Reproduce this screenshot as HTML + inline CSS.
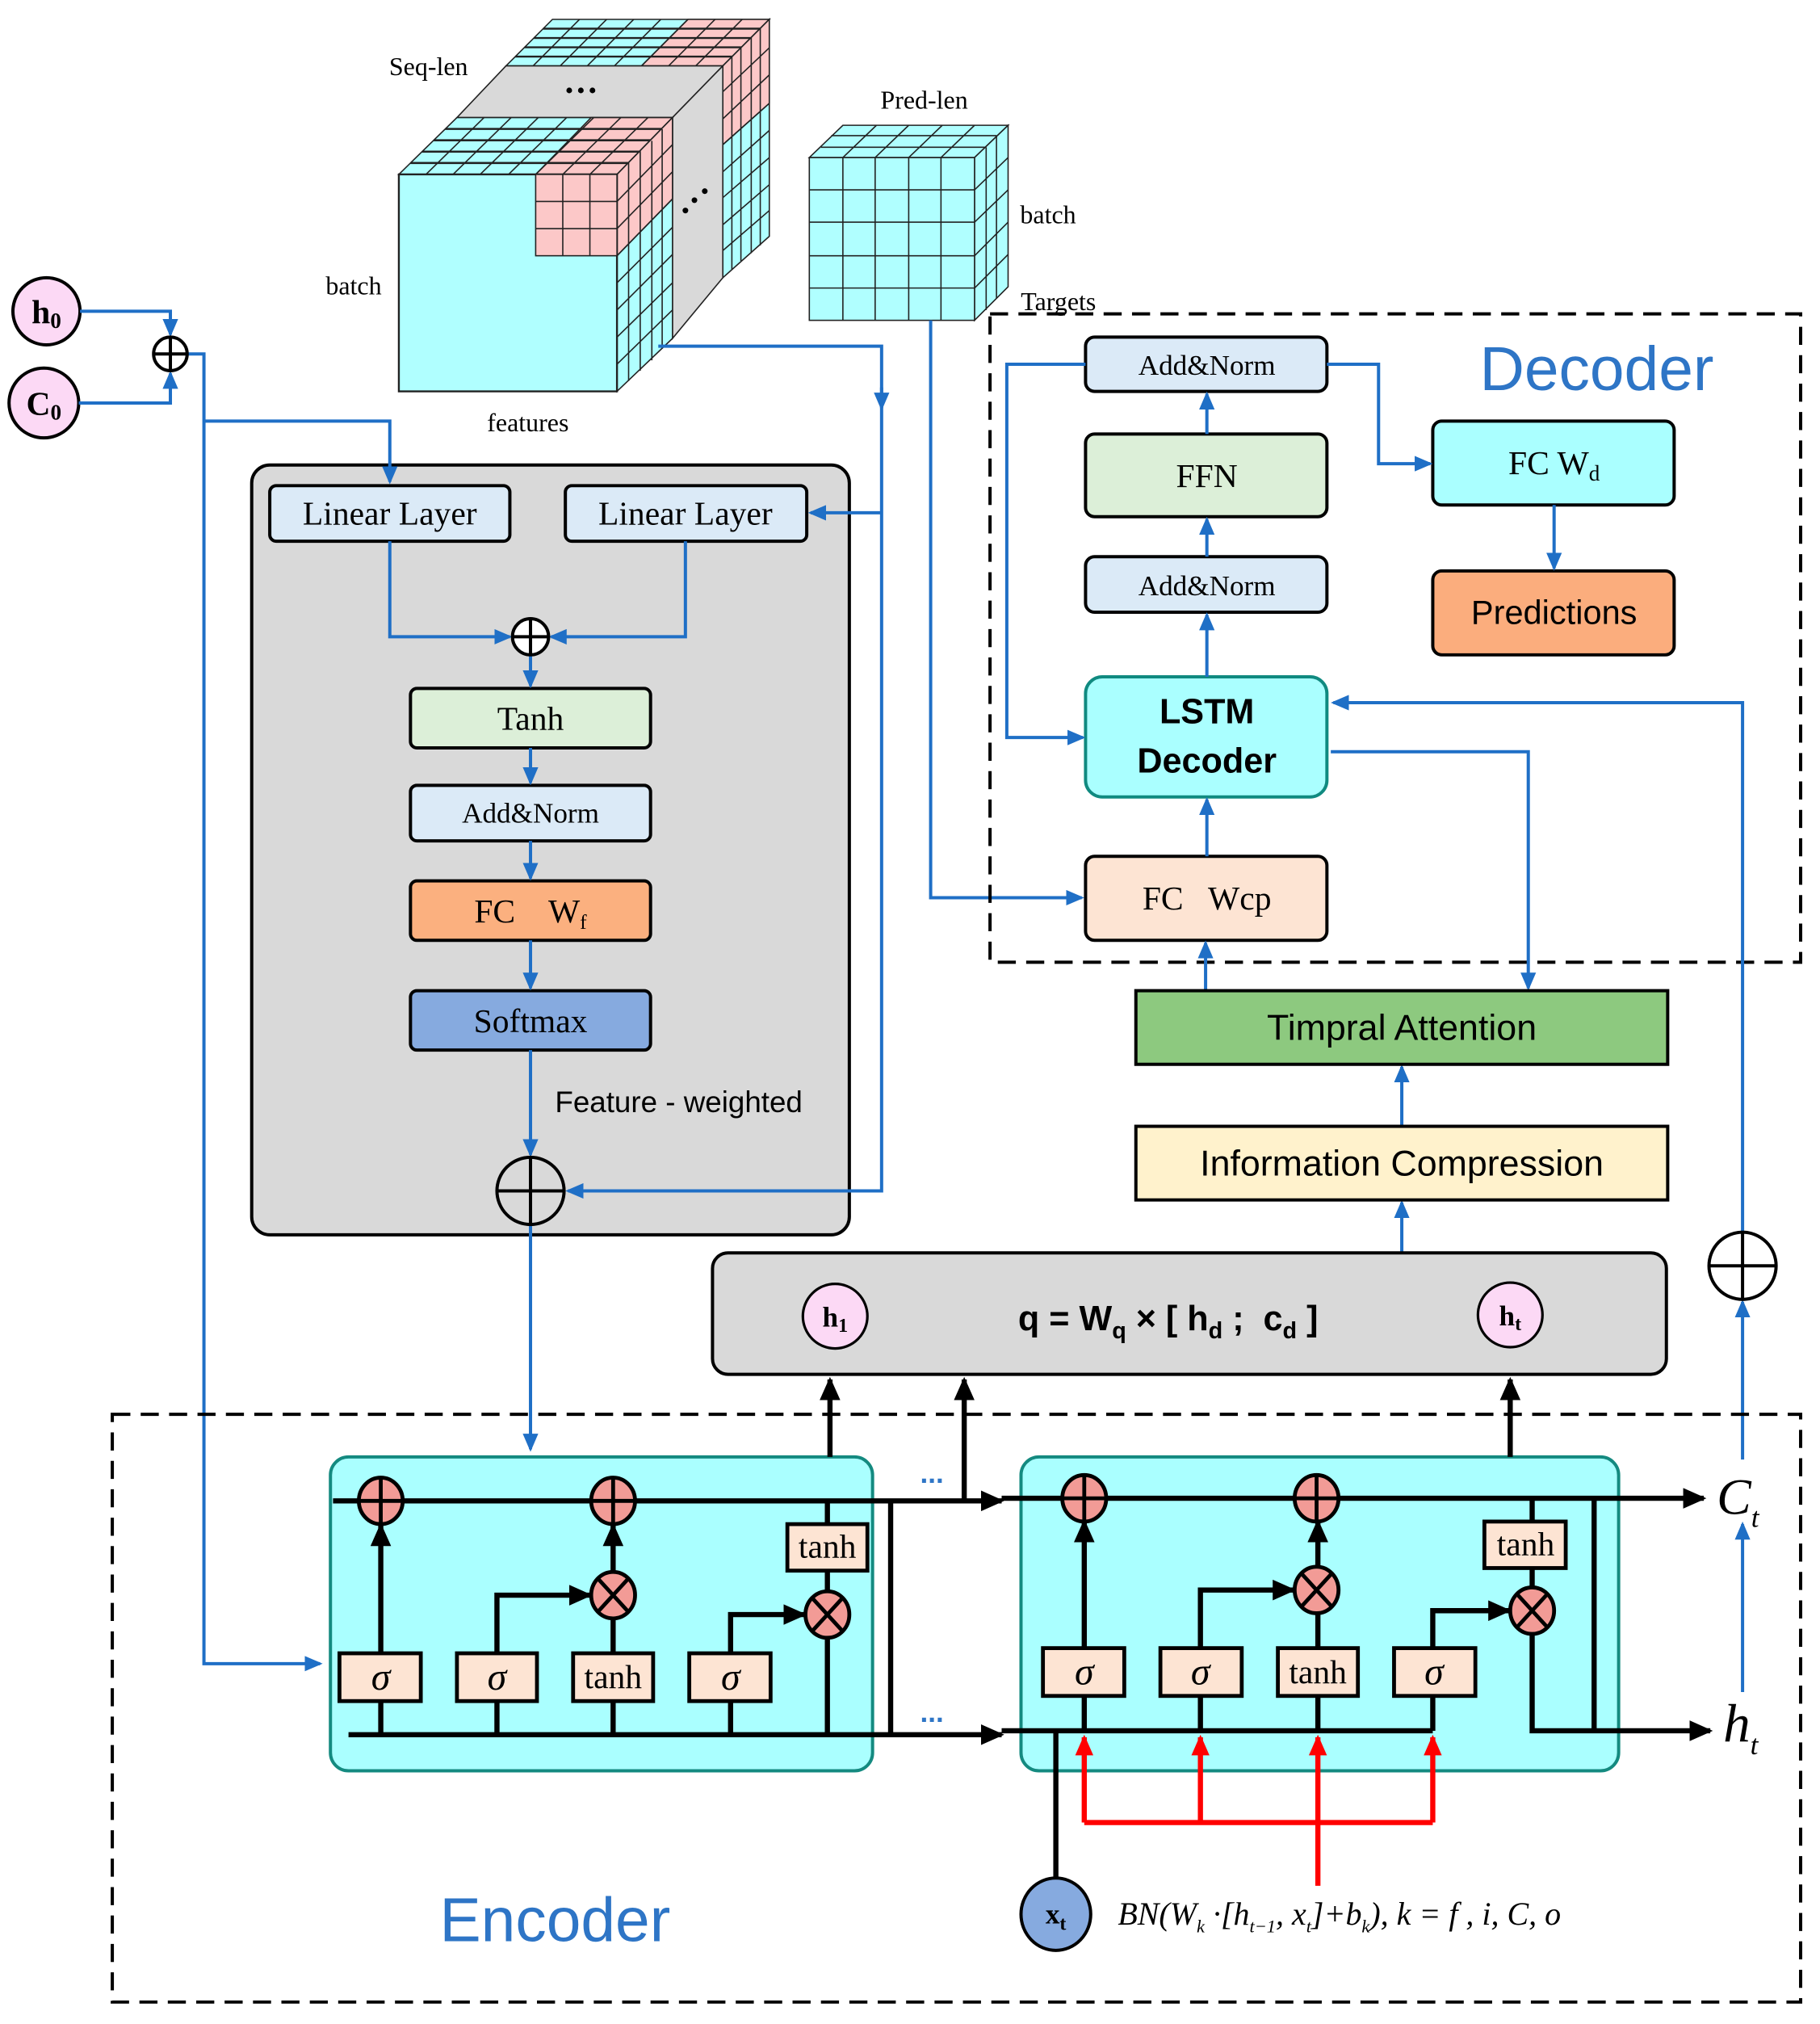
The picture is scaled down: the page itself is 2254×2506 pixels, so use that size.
<!DOCTYPE html>
<html><head><meta charset="utf-8"><style>
html,body{margin:0;padding:0;background:#fff}
svg{display:block}
.s{font-family:"Liberation Serif",serif}
.a{font-family:"Liberation Sans",sans-serif}
</style></head><body>
<svg width="2254" height="2506" viewBox="0 0 1410 1567" preserveAspectRatio="none" xmlns="http://www.w3.org/2000/svg">
<defs>
<marker id="ab" markerWidth="14" markerHeight="12" refX="12" refY="6" orient="auto" markerUnits="userSpaceOnUse"><path d="M0,0 L14,6 L0,12 z" fill="#1f6fc6"/></marker>
<marker id="ak" markerWidth="18" markerHeight="16" refX="16" refY="8" orient="auto" markerUnits="userSpaceOnUse"><path d="M0,0 L18,8 L0,16 z" fill="#000"/></marker>
<marker id="ar" markerWidth="16" markerHeight="14" refX="14" refY="7" orient="auto" markerUnits="userSpaceOnUse"><path d="M0,0 L16,7 L0,14 z" fill="#f00"/></marker>
</defs>

<!-- ===== Big 3D data cube ===== -->
<g stroke="#222" stroke-width="1">
<polygon points="392,51 560,51 596,15 428,15" fill="#b0ffff"/>
<polygon points="497,51 560,51 596,15 533,15" fill="#fcc8c8"/>
<g stroke-width="1.5">
<line x1="392" y1="51" x2="560" y2="51" transform="translate(7.2,-7.2)"/>
<line x1="392" y1="51" x2="560" y2="51" transform="translate(14.4,-14.4)"/>
<line x1="392" y1="51" x2="560" y2="51" transform="translate(21.6,-21.6)"/>
<line x1="392" y1="51" x2="560" y2="51" transform="translate(28.8,-28.8)"/>
</g>
<line x1="413" y1="51" x2="449" y2="15"/><line x1="434" y1="51" x2="470" y2="15"/><line x1="455" y1="51" x2="491" y2="15"/><line x1="476" y1="51" x2="512" y2="15"/><line x1="497" y1="51" x2="533" y2="15"/><line x1="518" y1="51" x2="554" y2="15"/><line x1="539" y1="51" x2="575" y2="15"/>
<polygon points="560,51 596,15 596,183 560,215" fill="#b0ffff"/>
<polygon points="560,51 596,15 596,80 560,112" fill="#fcc8c8"/>
<line x1="560" y1="71" x2="596" y2="37"/><line x1="560" y1="92" x2="596" y2="58"/><line x1="560" y1="112" x2="596" y2="80"/><line x1="560" y1="133" x2="596" y2="101"/><line x1="560" y1="153" x2="596" y2="122"/><line x1="560" y1="174" x2="596" y2="143"/><line x1="560" y1="194" x2="596" y2="163"/>
<line x1="567" y1="44" x2="567" y2="209"/><line x1="574" y1="37" x2="574" y2="202"/><line x1="582" y1="29" x2="582" y2="196"/><line x1="589" y1="22" x2="589" y2="190"/>
<polygon points="354,91 521,91 560,51 392,51" fill="#d9d9d9"/>
<polygon points="521,91 560,51 560,215 521,262" fill="#d9d9d9"/>
<polygon points="309,135 478,135 521,91 354,91" fill="#b0ffff"/>
<polygon points="415,135 478,135 521,91 458,91" fill="#fcc8c8"/>
<g stroke-width="1.6">
<line x1="309" y1="135" x2="478" y2="135" transform="translate(9,-8.8)"/>
<line x1="309" y1="135" x2="478" y2="135" transform="translate(18,-17.6)"/>
<line x1="309" y1="135" x2="478" y2="135" transform="translate(27,-26.4)"/>
<line x1="309" y1="135" x2="478" y2="135" transform="translate(36,-35.2)"/>
</g>
<line x1="330" y1="135" x2="375" y2="91"/><line x1="351" y1="135" x2="396" y2="91"/><line x1="372" y1="135" x2="417" y2="91"/><line x1="394" y1="135" x2="439" y2="91"/><line x1="415" y1="135" x2="460" y2="91"/><line x1="436" y1="135" x2="481" y2="91"/><line x1="457" y1="135" x2="502" y2="91"/>
<polygon points="478,135 521,91 521,262 478,303" fill="#b0ffff"/>
<polygon points="478,135 521,91 521,154 478,198" fill="#fcc8c8"/>
<line x1="478" y1="156" x2="521" y2="112"/><line x1="478" y1="177" x2="521" y2="133"/><line x1="478" y1="198" x2="521" y2="154"/><line x1="478" y1="219" x2="521" y2="176"/><line x1="478" y1="240" x2="521" y2="197"/><line x1="478" y1="261" x2="521" y2="219"/><line x1="478" y1="282" x2="521" y2="240"/>
<line x1="487" y1="126" x2="487" y2="295"/><line x1="496" y1="117" x2="496" y2="287"/><line x1="505" y1="109" x2="505" y2="279"/><line x1="513" y1="100" x2="513" y2="270"/>
<rect x="309" y="135" width="169" height="168" fill="#b0ffff" stroke-width="1.5"/>
<rect x="415" y="135" width="63" height="63" fill="#fcc8c8"/>
<line x1="436" y1="135" x2="436" y2="198"/><line x1="457" y1="135" x2="457" y2="198"/><line x1="415" y1="156" x2="478" y2="156"/><line x1="415" y1="177" x2="478" y2="177"/>
</g>
<g fill="#000"><circle cx="441" cy="70" r="2.2"/><circle cx="450" cy="70" r="2.2"/><circle cx="459" cy="70" r="2.2"/>
<circle cx="531" cy="163" r="2.2"/><circle cx="538" cy="155" r="2.2"/><circle cx="546" cy="148" r="2.2"/></g>
<text class="s" x="332" y="58" font-size="20" text-anchor="middle">Seq-len</text>
<text class="s" x="274" y="228" font-size="20" text-anchor="middle">batch</text>
<text class="s" x="409" y="334" font-size="20" text-anchor="middle">features</text>

<!-- ===== Targets cube ===== -->
<g stroke="#222" stroke-width="1">
<polygon points="627,122 755,122 781,97 653,97" fill="#b0ffff"/>
<polygon points="755,122 781,97 781,222 755,248" fill="#b0ffff"/>
<rect x="627" y="122" width="128" height="126" fill="#b0ffff"/>
<line x1="653" y1="122" x2="653" y2="248"/><line x1="678" y1="122" x2="678" y2="248"/><line x1="704" y1="122" x2="704" y2="248"/><line x1="729" y1="122" x2="729" y2="248"/>
<line x1="627" y1="147" x2="755" y2="147"/><line x1="627" y1="172" x2="755" y2="172"/><line x1="627" y1="198" x2="755" y2="198"/><line x1="627" y1="223" x2="755" y2="223"/>
<line x1="636" y1="114" x2="764" y2="114"/><line x1="644" y1="105" x2="772" y2="105"/>
<line x1="653" y1="122" x2="679" y2="97"/><line x1="678" y1="122" x2="704" y2="97"/><line x1="704" y1="122" x2="730" y2="97"/><line x1="729" y1="122" x2="755" y2="97"/>
<line x1="755" y1="147" x2="781" y2="122"/><line x1="755" y1="172" x2="781" y2="147"/><line x1="755" y1="198" x2="781" y2="172"/><line x1="755" y1="223" x2="781" y2="197"/>
<line x1="764" y1="114" x2="764" y2="240"/><line x1="772" y1="105" x2="772" y2="231"/>
</g>
<text class="s" x="716" y="84" font-size="20" text-anchor="middle">Pred-len</text>
<text class="s" x="812" y="173" font-size="20" text-anchor="middle">batch</text>
<text class="s" x="820" y="240" font-size="20" text-anchor="middle">Targets</text>

<!-- ===== h0 / C0 ===== -->
<circle cx="36" cy="241" r="26" fill="#fcd9f5" stroke="#000" stroke-width="2.5"/>
<text class="s" x="36" y="250" font-size="26" font-weight="bold" text-anchor="middle">h<tspan font-size="17" dy="4">0</tspan></text>
<circle cx="34" cy="312" r="27" fill="#fcd9f5" stroke="#000" stroke-width="2.5"/>
<text class="s" x="34" y="321" font-size="26" font-weight="bold" text-anchor="middle">C<tspan font-size="17" dy="4">0</tspan></text>
<g fill="none" stroke="#1f6fc6" stroke-width="2.5">
<path d="M62,241 H132 V259" marker-end="url(#ab)"/>
<path d="M61,312 H132 V289" marker-end="url(#ab)"/>
<path d="M145,274 H158 V1288 H248" marker-end="url(#ab)"/>
<path d="M510,268 H683 V316" marker-end="url(#ab)"/>
<path d="M683,300 V922 H660"/>
<path d="M721,248 V695 H838" marker-end="url(#ab)"/>
</g>
<circle cx="132" cy="274" r="13" fill="#fff" stroke="#000" stroke-width="2.5"/>
<path d="M119,274 H145 M132,261 V287" stroke="#000" stroke-width="2.5"/>

<!-- ===== Attention gray box ===== -->
<rect x="195" y="360" width="463" height="596" rx="14" fill="#d9d9d9" stroke="#000" stroke-width="2.5"/>
<g stroke="#000" stroke-width="2.5">
<rect x="209" y="376" width="186" height="43" rx="5" fill="#dbeaf7"/>
<rect x="438" y="376" width="187" height="43" rx="5" fill="#dbeaf7"/>
<rect x="318" y="533" width="186" height="46" rx="5" fill="#dcefd8"/>
<rect x="318" y="608" width="186" height="43" rx="5" fill="#dbeaf7"/>
<rect x="318" y="682" width="186" height="46" rx="5" fill="#fbb07f"/>
<rect x="318" y="767" width="186" height="46" rx="5" fill="#86aadf"/>
</g>
<g class="s" font-size="26" text-anchor="middle">
<text x="302" y="406">Linear Layer</text>
<text x="531" y="406">Linear Layer</text>
<text x="411" y="565">Tanh</text>
<text x="411" y="637" font-size="22">Add&amp;Norm</text>
<text x="411" y="714">FC &#160;&#160; W<tspan font-size="16" dy="5">f</tspan></text>
<text x="411" y="799">Softmax</text>
</g>
<text class="a" x="430" y="861" font-size="23">Feature - weighted</text>
<g fill="none" stroke="#1f6fc6" stroke-width="2.5">
<path d="M158,326 H302 V373" marker-end="url(#ab)"/>
<path d="M683,397 H628" marker-end="url(#ab)"/>
<path d="M683,922 H440" marker-end="url(#ab)"/>
<path d="M302,419 V493 H395" marker-end="url(#ab)"/>
<path d="M531,419 V493 H427" marker-end="url(#ab)"/>
<path d="M411,507 V531" marker-end="url(#ab)"/>
<path d="M411,579 V606" marker-end="url(#ab)"/>
<path d="M411,651 V680" marker-end="url(#ab)"/>
<path d="M411,728 V765" marker-end="url(#ab)"/>
<path d="M411,813 V894" marker-end="url(#ab)"/>
<path d="M411,948 V1122" marker-end="url(#ab)"/>
</g>
<circle cx="411" cy="493" r="14" fill="#fff" stroke="#000" stroke-width="2.5"/>
<path d="M397,493 H425 M411,479 V507" stroke="#000" stroke-width="2.5"/>
<circle cx="411" cy="922" r="26" fill="#d9d9d9" stroke="#000" stroke-width="2.5"/>
<path d="M385,922 H437 M411,896 V948" stroke="#000" stroke-width="2.5"/>

<!-- ===== Decoder ===== -->
<rect x="767" y="243" width="628" height="502" fill="none" stroke="#000" stroke-width="2.5" stroke-dasharray="14,8"/>
<text class="a" x="1237" y="302" font-size="48" fill="#2e75c6" text-anchor="middle">Decoder</text>
<g stroke="#000" stroke-width="2.5">
<rect x="841" y="261" width="187" height="42" rx="7" fill="#dbeaf7"/>
<rect x="841" y="336" width="187" height="64" rx="7" fill="#dcefd8"/>
<rect x="841" y="431" width="187" height="43" rx="7" fill="#dbeaf7"/>
<rect x="841" y="663" width="187" height="65" rx="7" fill="#fde4d3"/>
<rect x="1110" y="326" width="187" height="65" rx="7" fill="#aff"/>
<rect x="1110" y="442" width="187" height="65" rx="7" fill="#fbad7d"/>
</g>
<rect x="841" y="524" width="187" height="93" rx="13" fill="#aff" stroke="#108a80" stroke-width="2.5"/>
<g class="s" text-anchor="middle" font-size="22">
<text x="935" y="290">Add&amp;Norm</text>
<text x="935" y="377" font-size="26">FFN</text>
<text x="935" y="461">Add&amp;Norm</text>
<text x="935" y="704" font-size="26">FC &#160; Wcp</text>
<text x="1204" y="367" font-size="26">FC W<tspan font-size="17" dy="5">d</tspan></text>
<text x="1204" y="483" font-size="26" class="a">Predictions</text>
</g>
<text class="a" x="935" y="560" font-size="27" font-weight="bold" text-anchor="middle">LSTM</text>
<text class="a" x="935" y="598" font-size="27" font-weight="bold" text-anchor="middle">Decoder</text>
<g fill="none" stroke="#1f6fc6" stroke-width="2.5">
<path d="M935,663 V619" marker-end="url(#ab)"/>
<path d="M935,524 V476" marker-end="url(#ab)"/>
<path d="M935,431 V402" marker-end="url(#ab)"/>
<path d="M935,336 V305" marker-end="url(#ab)"/>
<path d="M841,282 H780 V571 H839" marker-end="url(#ab)"/>
<path d="M1028,282 H1068 V359 H1108" marker-end="url(#ab)"/>
<path d="M1204,391 V440" marker-end="url(#ab)"/>
<path d="M1031,582 H1184 V765" marker-end="url(#ab)"/>
<path d="M1350,954 V544 H1033" marker-end="url(#ab)"/>
<path d="M934,767 V730" marker-end="url(#ab)"/>
<path d="M1086,872 V826" marker-end="url(#ab)"/>
<path d="M1086,970 V931" marker-end="url(#ab)"/>
<path d="M1350,1130 V1008" marker-end="url(#ab)"/>
<path d="M1350,1310 V1180" marker-end="url(#ab)"/>
</g>
<rect x="880" y="767" width="412" height="57" fill="#8dc97f" stroke="#000" stroke-width="2.5"/>
<rect x="880" y="872" width="412" height="57" fill="#fff2cc" stroke="#000" stroke-width="2.5"/>
<text class="a" x="1086" y="805" font-size="28" text-anchor="middle">Timpral Attention</text>
<text class="a" x="1086" y="910" font-size="28" text-anchor="middle">Information Compression</text>
<circle cx="1350" cy="980" r="26" fill="#fff" stroke="#000" stroke-width="2.5"/>
<path d="M1324,980 H1376 M1350,954 V1006" stroke="#000" stroke-width="2.5"/>

<!-- q box -->
<rect x="552" y="970" width="739" height="94" rx="12" fill="#d9d9d9" stroke="#000" stroke-width="2.5"/>
<circle cx="647" cy="1019" r="25" fill="#fcd9f5" stroke="#000" stroke-width="2"/>
<circle cx="1170" cy="1018" r="25" fill="#fcd9f5" stroke="#000" stroke-width="2"/>
<text class="s" x="647" y="1027" font-size="22" font-weight="bold" text-anchor="middle">h<tspan font-size="15" dy="4">1</tspan></text>
<text class="s" x="1170" y="1026" font-size="22" font-weight="bold" text-anchor="middle">h<tspan font-size="15" dy="4">t</tspan></text>
<text class="a" x="905" y="1030" font-size="27" font-weight="bold" text-anchor="middle">q = W<tspan font-size="18" dy="6">q</tspan><tspan dy="-6"> × [ h</tspan><tspan font-size="18" dy="6">d</tspan><tspan dy="-6"> ; &#160;c</tspan><tspan font-size="18" dy="6">d</tspan><tspan dy="-6"> ]</tspan></text>

<!-- ===== Encoder ===== -->
<rect x="87" y="1095" width="1308" height="455" fill="none" stroke="#000" stroke-width="2.5" stroke-dasharray="14,8"/>
<text class="a" x="430" y="1503" font-size="48" fill="#2e75c6" text-anchor="middle">Encoder</text>
<rect x="256" y="1128" width="420" height="243" rx="14" fill="#aff" stroke="#148a80" stroke-width="2.5"/>
<rect x="791" y="1128" width="463" height="243" rx="14" fill="#aff" stroke="#148a80" stroke-width="2.5"/>

<g fill="none" stroke="#000" stroke-width="4">
<path d="M258,1162 H776" marker-end="url(#ak)"/>
<path d="M270,1343 H776" marker-end="url(#ak)"/>
<path d="M690,1162 V1343"/>
<path d="M295,1343 V1317 M295,1280 V1181" marker-end="url(#ak)"/>
<path d="M385,1343 V1317 M385,1280 V1235 H457" marker-end="url(#ak)"/>
<path d="M475,1343 V1317 M475,1280 V1252"/>
<path d="M475,1218 V1181" marker-end="url(#ak)"/>
<path d="M566,1343 V1317 M566,1280 V1250 H623" marker-end="url(#ak)"/>
<path d="M641,1162 V1180 M641,1216 V1233 M641,1267 V1343"/>
<path d="M643,1128 V1068" marker-end="url(#ak)"/>
<path d="M747,1162 V1068" marker-end="url(#ak)"/>
<path d="M1170,1128 V1068" marker-end="url(#ak)"/>
<path d="M776,1160 H1320" marker-end="url(#ak)"/>
<path d="M776,1340 H1110"/>
<path d="M840,1340 V1313 M840,1276 V1178" marker-end="url(#ak)"/>
<path d="M930,1340 V1313 M930,1276 V1231 H1002" marker-end="url(#ak)"/>
<path d="M1021,1340 V1313 M1021,1276 V1248"/>
<path d="M1021,1214 V1178" marker-end="url(#ak)"/>
<path d="M1110,1340 V1313 M1110,1276 V1247 H1169" marker-end="url(#ak)"/>
<path d="M1187,1160 V1178 M1187,1214 V1230 M1187,1264 V1340 H1325" marker-end="url(#ak)"/>
<path d="M1235,1160 V1340"/>
<path d="M818,1340 V1456"/>
</g>
<g fill="none" stroke="#f00" stroke-width="4">
<path d="M840,1411 V1345" marker-end="url(#ar)"/>
<path d="M930,1411 V1345" marker-end="url(#ar)"/>
<path d="M1110,1411 V1345" marker-end="url(#ar)"/>
<path d="M1021,1460 V1345" marker-end="url(#ar)"/>
<path d="M840,1411 H1110"/>
</g>
<g stroke="#000" stroke-width="3" fill="#fde4d3">
<rect x="263" y="1280" width="63" height="37"/><rect x="354" y="1280" width="62" height="37"/><rect x="444" y="1280" width="62" height="37"/><rect x="534" y="1280" width="63" height="37"/><rect x="610" y="1180" width="62" height="36"/>
<rect x="808" y="1276" width="63" height="37"/><rect x="899" y="1276" width="63" height="37"/><rect x="990" y="1276" width="62" height="37"/><rect x="1080" y="1276" width="63" height="37"/><rect x="1150" y="1178" width="63" height="36"/>
</g>
<g class="s" text-anchor="middle" font-size="26">
<text x="295" y="1308" font-style="italic" font-size="30">σ</text><text x="385" y="1308" font-style="italic" font-size="30">σ</text><text x="475" y="1307">tanh</text><text x="566" y="1308" font-style="italic" font-size="30">σ</text><text x="641" y="1206">tanh</text>
<text x="840" y="1304" font-style="italic" font-size="30">σ</text><text x="930" y="1304" font-style="italic" font-size="30">σ</text><text x="1021" y="1303">tanh</text><text x="1111" y="1304" font-style="italic" font-size="30">σ</text><text x="1182" y="1204">tanh</text>
</g>
<g stroke="#000" stroke-width="3" fill="#f29b96">
<ellipse cx="295" cy="1162" rx="17" ry="18"/><ellipse cx="475" cy="1162" rx="17" ry="18"/><ellipse cx="475" cy="1235" rx="17" ry="18"/><ellipse cx="641" cy="1250" rx="17" ry="18"/>
<ellipse cx="840" cy="1160" rx="17" ry="18"/><ellipse cx="1020" cy="1160" rx="17" ry="18"/><ellipse cx="1020" cy="1231" rx="17" ry="18"/><ellipse cx="1187" cy="1247" rx="17" ry="18"/>
</g>
<g stroke="#000" stroke-width="3">
<path d="M278,1162 H312 M295,1144 V1180"/><path d="M458,1162 H492 M475,1144 V1180"/>
<path d="M823,1160 H857 M840,1142 V1178"/><path d="M1003,1160 H1037 M1020,1142 V1178"/>
<path d="M464,1223 L486,1247 M486,1223 L464,1247"/><path d="M630,1238 L652,1262 M652,1238 L630,1262"/>
<path d="M1009,1219 L1031,1243 M1031,1219 L1009,1243"/><path d="M1176,1235 L1198,1259 M1198,1235 L1176,1259"/>
</g>
<text class="a" x="722" y="1148" font-size="22" font-weight="bold" fill="#2e75c6" text-anchor="middle">...</text>
<text class="a" x="722" y="1333" font-size="22" font-weight="bold" fill="#2e75c6" text-anchor="middle">...</text>
<text class="s" x="1330" y="1172" font-size="40" font-style="italic">C<tspan font-size="22" dy="10">t</tspan></text>
<text class="s" x="1335" y="1348" font-size="42" font-style="italic">h<tspan font-size="22" dy="10">t</tspan></text>
<ellipse cx="818" cy="1482" rx="27" ry="28" fill="#86aadf" stroke="#000" stroke-width="2.5"/>
<text class="s" x="818" y="1489" font-size="22" font-weight="bold" text-anchor="middle">x<tspan font-size="15" dy="5">t</tspan></text>
<text class="s" x="866" y="1490" font-size="25" font-style="italic">BN(W<tspan font-size="14" dy="6">k</tspan><tspan dy="-6"> ·[h</tspan><tspan font-size="14" dy="6">t−1</tspan><tspan dy="-6">, x</tspan><tspan font-size="14" dy="6">t</tspan><tspan dy="-6">]+b</tspan><tspan font-size="14" dy="6">k</tspan><tspan dy="-6">), k = f , i, C, o</tspan></text>
</svg>
</body></html>
